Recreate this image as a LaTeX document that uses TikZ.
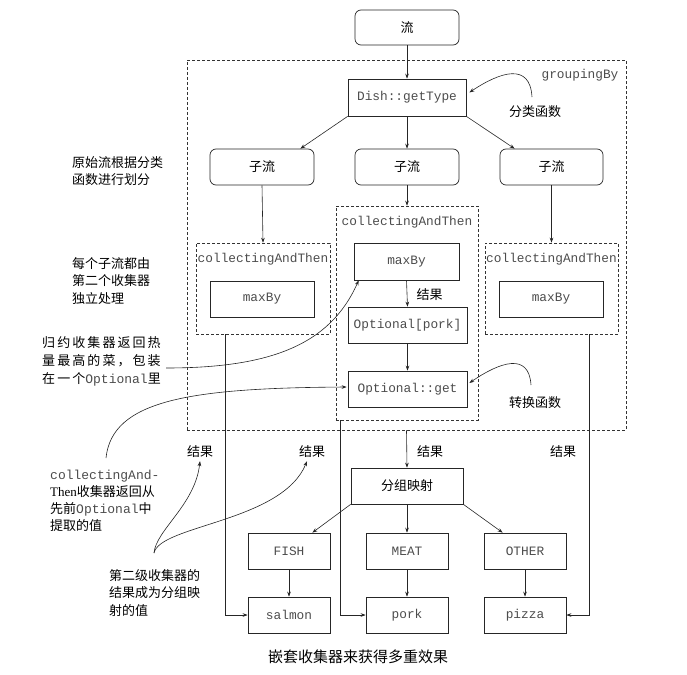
\documentclass[tikz,border=0pt]{standalone}
\usepackage{fontspec}
\setmainfont{Liberation Serif}
\setmonofont{Liberation Mono}
\newfontfamily\cjk{Noto Sans CJK SC}
\newfontfamily\cjkw[LetterSpace=16]{Noto Sans CJK SC}
\usetikzlibrary{arrows.meta,calc}
\tikzset{
 arr/.style={draw=black!85, line width=0.6pt, -{Stealth[length=5pt,width=3.6pt]}},
 rbox/.style={draw=black!85, line width=0.7pt, rounded corners=6pt, inner sep=0pt, font=\cjk\fontsize{13}{16}\selectfont},
 box/.style={draw=black!85, line width=0.7pt, inner sep=0pt},
 mono/.style={font=\ttfamily\fontsize{12.8}{16}\selectfont, text=black!70},
 dbox/.style={draw=black!80, line width=0.6pt, dash pattern=on 3pt off 2pt, inner sep=0pt},
 zh/.style={font=\cjk\fontsize{13}{17.5}\selectfont, inner sep=0pt, align=left},
 zhbox/.style={font=\cjk\fontsize{13}{16}\selectfont},
}
\begin{document}
\begin{tikzpicture}[x=1pt,y=-1pt]
\useasboundingbox (0,0) rectangle (687,674);
% outer groupingBy box
\node[dbox, minimum width=439, minimum height=370] (grp) at (406.5,245) {};
\node[mono] (grpl) at (580,75) {groupingBy};
\node[rbox, minimum width=104, minimum height=35] (liu) at (407,27.5) {流};
\node[box, mono, minimum width=118, minimum height=37] (dish) at (407,97.5) {Dish::getType};
\node[zh] (fenlei) at (535,112) {分类函数};
\node[rbox, minimum width=104, minimum height=36] (sub1) at (262,167) {子流};
\node[rbox, minimum width=104, minimum height=36] (sub2) at (407,167) {子流};
\node[rbox, minimum width=103, minimum height=36] (sub3) at (551.5,167) {子流};
% collectingAndThen boxes
\node[dbox, minimum width=134, minimum height=91] (cat1) at (263,288.5) {};
\node[mono] (cat1l) at (263,259) {collectingAndThen};
\node[box, mono, minimum width=104, minimum height=36] (max1) at (262,299) {maxBy};
\node[dbox, minimum width=142, minimum height=214] (cat2) at (407,313) {};
\node[mono] (cat2l) at (407,222) {collectingAndThen};
\node[box, mono, minimum width=105, minimum height=37] (max2) at (406.5,261.5) {maxBy};
\node[box, mono, minimum width=119, minimum height=36] (opt) at (407.5,325) {Optional[pork]};
\node[box, mono, minimum width=119, minimum height=36] (get) at (407.5,389) {Optional::get};
\node[zh] (res0) at (429.5,295) {结果};
\node[zh] (zhuan) at (535,403) {转换函数};
\node[dbox, minimum width=133, minimum height=91] (cat3) at (551.5,288.5) {};
\node[mono] (cat3l) at (551.5,259) {collectingAndThen};
\node[box, mono, minimum width=104, minimum height=36] (max3) at (551,299) {maxBy};
% grouping map
\node[box, zhbox, minimum width=112, minimum height=36] (map) at (407,486) {分组映射};
\node[box, mono, minimum width=82, minimum height=36] (fish) at (289,551) {FISH};
\node[box, mono, minimum width=82, minimum height=36] (meat) at (407,551) {MEAT};
\node[box, mono, minimum width=82, minimum height=36] (other) at (525,551) {OTHER};
\node[box, mono, minimum width=82, minimum height=36] (salmon) at (289,615) {salmon};
\node[box, mono, minimum width=82, minimum height=36] (pork) at (407,615) {pork};
\node[box, mono, minimum width=82, minimum height=36] (pizza) at (525,615) {pizza};
\node[zh] (r1) at (200,452) {结果};
\node[zh] (r2) at (312,452) {结果};
\node[zh] (r3) at (430,452) {结果};
\node[zh] (r4) at (563,452) {结果};
% annotations
\node[zh, anchor=west] (t1) at (72,171) {原始流根据分类\\函数进行划分};
\node[zh, anchor=west] (t2) at (72,281) {每个子流都由\\第二个收集器\\独立处理};
\node[zh, anchor=west, font=\cjkw\fontsize{13}{18}\selectfont] (t3) at (42,361) {归约收集器返回热\\量最高的菜，包装\\在一个{\ttfamily\color{black!70}Optional}里};
\node[zh, anchor=west, font=\cjk\fontsize{13}{17}\selectfont] (t4) at (50,500.5) {{\ttfamily\color{black!70}collectingAnd-}\\{\rmfamily Then}收集器返回从\\先前{\ttfamily\color{black!70}Optional}中\\提取的值};
\node[zh, anchor=west] (t5) at (109,593) {第二级收集器的\\结果成为分组映\\射的值};
\node[font=\cjk\fontsize{15}{18}\selectfont] (cap) at (358,657) {嵌套收集器来获得多重效果};
% connectors
\draw[arr] (liu.south) -- (dish.north);
\draw[arr] (dish.south west) -- ($(sub1.north east)+(-14,0)$);
\draw[arr] (dish.south) -- (sub2.north);
\draw[arr] (dish.south east) -- ($(sub3.north west)+(15,0)$);
\draw[arr] (sub1.south) -- (cat1.north);
\draw[arr] (sub2.south) -- (cat2.north);
\draw[arr] (sub3.south) -- (cat3.north);
\draw[arr] (max2.south) -- (opt.north);
\draw[arr] (opt.south) -- (get.north);
\draw[arr] ($(cat1.south west)+(30,0)$) |- (salmon.west);
\draw[arr] ($(cat2.south west)+(5,0)$) |- (pork.west);
\draw[arr] ($(cat3.south east)+(-29,0)$) |- (pizza.east);
\draw[arr] (grp.south) -- (map.north);
\draw[arr] (map.south west) -- ($(fish.north east)+(-18,0)$);
\draw[arr] (map.south) -- (meat.north);
\draw[arr] (map.south east) -- ($(other.north west)+(19,0)$);
\draw[arr] (fish.south) -- (salmon.north);
\draw[arr] (meat.south) -- (pork.north);
\draw[arr] (other.south) -- (pizza.north);
% curved annotation arrows
\coordinate (c1) at (532,97);
\draw[arr] (c1) .. controls (530,62) and (500,72) .. ($(dish.east)+(3,-5)$);
\coordinate (c2) at (531,385);
\draw[arr] (c2) .. controls (529,352) and (500,362) .. ($(get.east)+(2,-6)$);
\coordinate (c3) at (166,368);
\draw[arr] (c3) .. controls (270,368) and (330,345) .. ($(max2.south west)+(5,0)$);
\coordinate (c4) at (106,458);
\draw[arr] (c4) .. controls (112,400) and (190,388) .. ($(get.west)+(-1,-2)$);
\coordinate (c5) at (154,553);
\draw[arr] (c5) .. controls (156,530) and (195,505) .. ($(r1.south)+(0,3)$);
\draw[arr] (c5) .. controls (160,525) and (282,522) .. ($(r2.south)+(-5,3)$);
\end{tikzpicture}
\end{document}
